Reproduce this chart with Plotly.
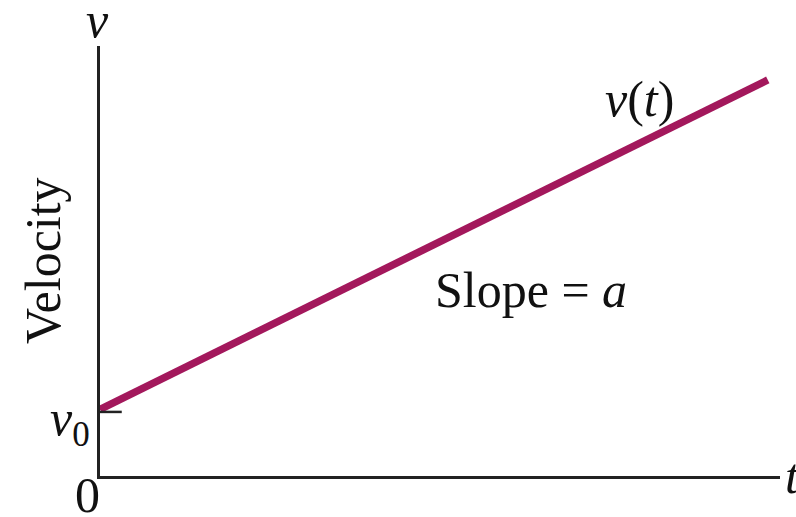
import plotly.graph_objects as go

# data
t_vals = [0.0, 9.82]
v_vals = [1.55, 9.21]
v0_label = "<i>v</i><sub>0</sub>"
curve_label = "<i>v</i>(<i>t</i>)"
slope_label = "Slope = <i>a</i>"
y_title = "Velocity"

X_RANGE = [0, 10]
Y_RANGE = [0, 10]

FONT = "Liberation Serif"
LINE_COLOR = "#a3185c"
AXIS_COLOR = "#222222"

fig = go.Figure()
fig.add_trace(go.Scatter(x=t_vals, y=v_vals, mode="lines",
                         line=dict(color=LINE_COLOR, width=7.5),
                         hoverinfo="skip", showlegend=False, cliponaxis=False))

# small tick marking v0 on the axis
fig.add_shape(type="line", x0=0, x1=0.32, y0=v_vals[0] - 0.06, y1=v_vals[0] - 0.06,
              xref="x", yref="y", line=dict(color=AXIS_COLOR, width=2.5))

ann_font = dict(family=FONT, size=50, color="#111111")
annotations = [
    dict(x=-0.003, y=1.06, text="<i>v</i>", xanchor="center", yanchor="middle"),
    dict(x=-0.084, y=0.502, text=y_title, textangle=-90, xanchor="center", yanchor="middle"),
    dict(x=-0.012, y=0.125, text=v0_label, xanchor="right", yanchor="middle"),
    dict(x=-0.018, y=-0.045, text="0", xanchor="center", yanchor="middle"),
    dict(x=1.004, y=0.0, text="<i>t</i>", xanchor="left", yanchor="middle"),
    dict(x=0.794, y=0.876, text=curve_label, xanchor="center", yanchor="middle"),
    dict(x=0.634, y=0.433, text=slope_label, xanchor="center", yanchor="middle"),
]
for a in annotations:
    fig.add_annotation(**a, xref="paper", yref="paper", showarrow=False, font=ann_font)

axis_common = dict(showgrid=False, zeroline=False, showticklabels=False, ticks="",
                   showline=True, linecolor=AXIS_COLOR, linewidth=3, fixedrange=True)
fig.update_xaxes(range=X_RANGE, **axis_common)
fig.update_yaxes(range=Y_RANGE, **axis_common)

fig.update_layout(width=796, height=517,
                  margin=dict(l=100, r=16, t=46, b=41),
                  paper_bgcolor="white", plot_bgcolor="white",
                  font=dict(family=FONT))

fig.write_html("out.html", config={"displayModeBar": False},
               post_script="document.body.style.margin='0';")
